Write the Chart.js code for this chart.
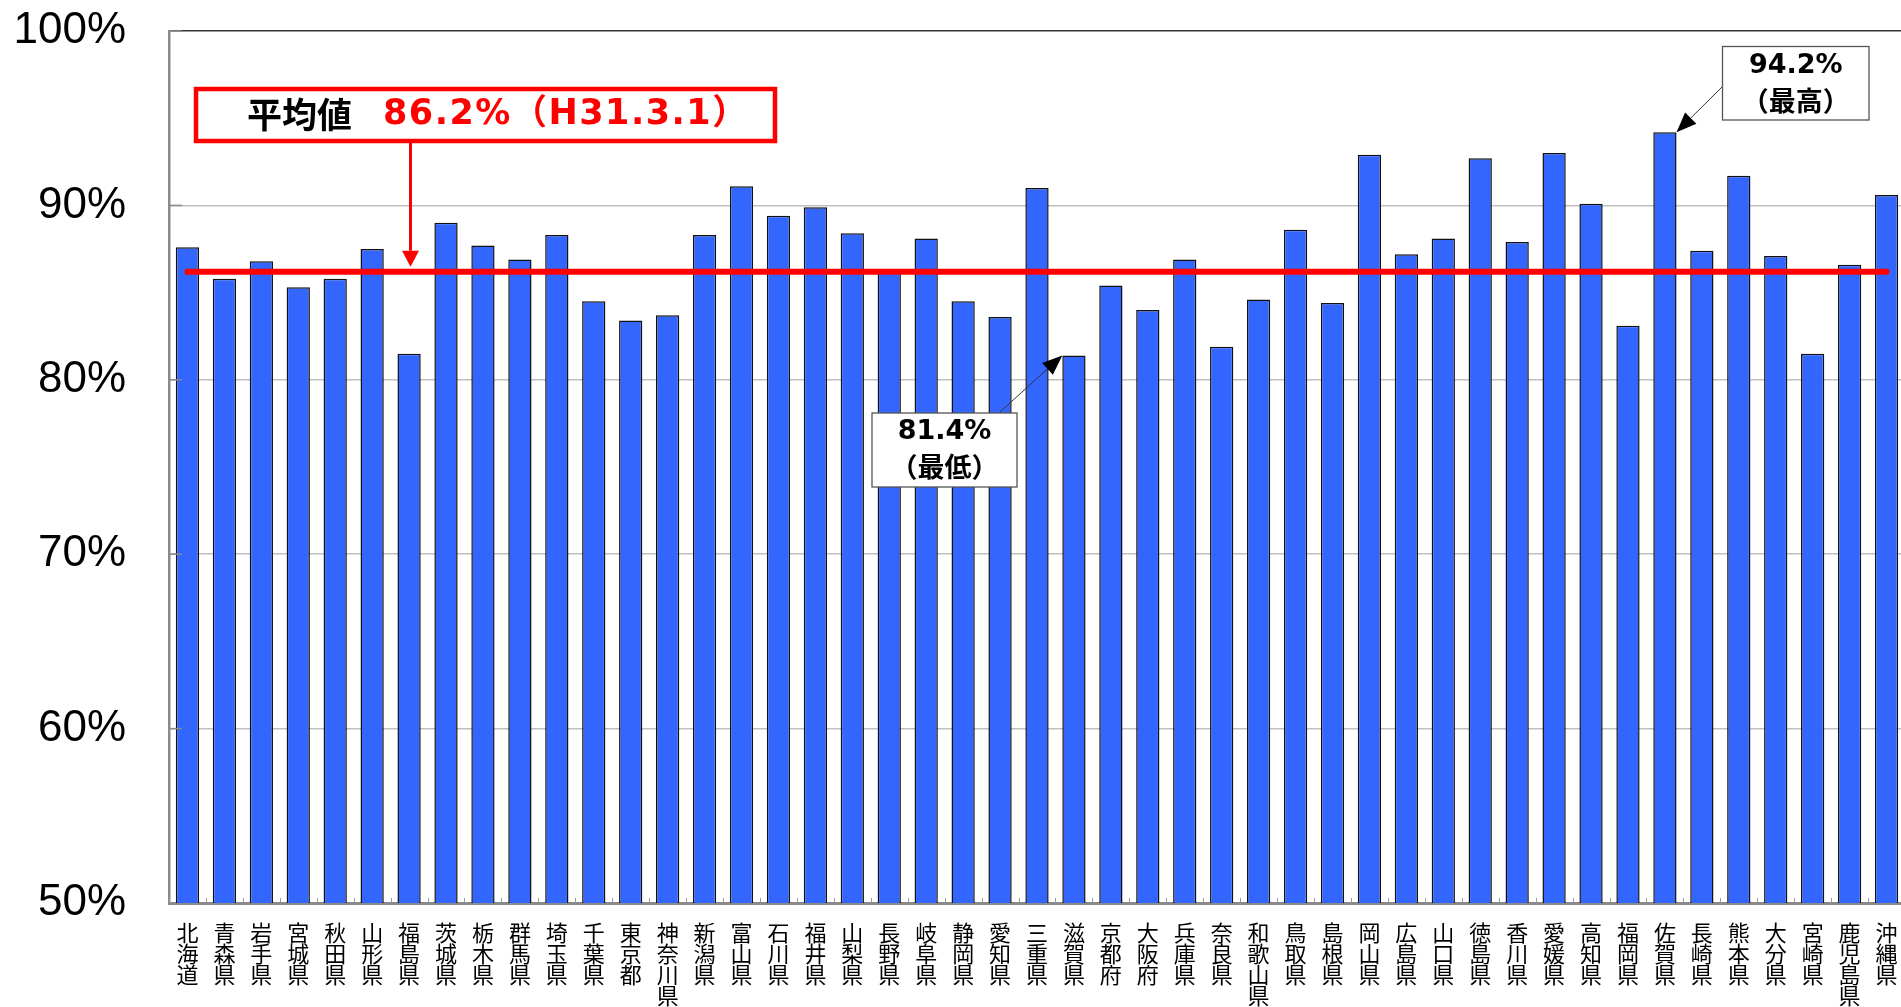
<!DOCTYPE html>
<html lang="ja">
<head>
<meta charset="UTF-8">
<title>都道府県別</title>
<script src="https://cdn.jsdelivr.net/npm/chart.js@4.4.1/dist/chart.umd.min.js"></script>
<style>
  html, body { margin: 0; padding: 0; background: #fff; overflow: hidden; }
  #rateChart { display: block; }
</style>
</head>
<body>
<canvas id="rateChart" width="1905" height="1007"></canvas>
<script>
// ====================================================== 데이터 ========================================================
// 도도부현 이름 (x축)
const prefNames = [
  '北海道', '青森県', '岩手県', '宮城県', '秋田県', '山形県', '福島県', '茨城県', '栃木県', '群馬県',
  '埼玉県', '千葉県', '東京都', '神奈川県', '新潟県', '富山県', '石川県', '福井県', '山梨県', '長野県',
  '岐阜県', '静岡県', '愛知県', '三重県', '滋賀県', '京都府', '大阪府', '兵庫県', '奈良県', '和歌山県',
  '鳥取県', '島根県', '岡山県', '広島県', '山口県', '徳島県', '香川県', '愛媛県', '高知県', '福岡県',
  '佐賀県', '長崎県', '熊本県', '大分県', '宮崎県', '鹿児島県', '沖縄県'
];

// 각 현의 값 (%)
const rateValues = [
  87.6, 85.8, 86.8, 85.3, 85.8, 87.5, 81.5, 89.0, 87.7, 86.9,
  88.3, 84.5, 83.4, 83.7, 88.3, 91.1, 89.4, 89.9, 88.4, 86.2,
  88.1, 84.5, 83.6, 91.0, 81.4, 85.4, 84.0, 86.9, 81.9, 84.6,
  88.6, 84.4, 92.9, 87.2, 88.1, 92.7, 87.9, 93.0, 90.1, 83.1,
  94.2, 87.4, 91.7, 87.1, 81.5, 86.6, 90.6
];

// y축 눈금
const yTickValues = [50, 60, 70, 80, 90, 100];

// 평균값
const averageValue = 86.2;
const averageTitle = '平均値';
const averageText = '86.2%（H31.3.1）';

// 최고 / 최저
const maxIndex = rateValues.indexOf(Math.max(...rateValues));
const minIndex = rateValues.indexOf(Math.min(...rateValues));
const maxNote = '（最高）';
const minNote = '（最低）';

// ====================================================== 그리기 도구 ========================================================
function drawArrow(ctx, x1, y1, x2, y2, headLen, headHalf, lineColor, headColor, lineWidth) {
  let ang = Math.atan2(y2 - y1, x2 - x1);
  let bx = x2 - Math.cos(ang) * headLen;
  let by = y2 - Math.sin(ang) * headLen;
  ctx.strokeStyle = lineColor;
  ctx.lineWidth = lineWidth;
  ctx.lineCap = 'butt';
  ctx.beginPath();
  ctx.moveTo(x1, y1);
  ctx.lineTo(bx, by);
  ctx.stroke();
  ctx.fillStyle = headColor;
  ctx.beginPath();
  ctx.moveTo(x2, y2);
  ctx.lineTo(bx + Math.sin(ang) * headHalf, by - Math.cos(ang) * headHalf);
  ctx.lineTo(bx - Math.sin(ang) * headHalf, by + Math.cos(ang) * headHalf);
  ctx.closePath();
  ctx.fill();
}

function drawNoteBox(ctx, left, top, w, h, line1, line2) {
  ctx.fillStyle = '#ffffff';
  ctx.fillRect(left, top, w, h);
  ctx.strokeStyle = '#555555';
  ctx.lineWidth = 1.3;
  ctx.strokeRect(left, top, w, h);
  ctx.fillStyle = '#000000';
  ctx.textAlign = 'center';
  ctx.textBaseline = 'middle';
  ctx.font = 'bold 27px "DejaVu Sans", "Noto Sans CJK JP"';
  ctx.fillText(line1, left + w / 2, top + 19);
  ctx.font = 'bold 27px "Noto Sans CJK JP"';
  ctx.fillText(line2, left + w / 2, top + 54);
}

// 평균선, 눈금, 주석
const overlayPlugin = {
  id: 'overlay',
  afterDraw(chart) {
    const ctx = chart.ctx;
    const xScale = chart.scales.x;
    const yScale = chart.scales.y;
    const area = chart.chartArea;
    const bars = chart.getDatasetMeta(0).data;

    ctx.save();

    // x축 작은 눈금 (막대 사이)
    ctx.strokeStyle = '#9a9a9a';
    ctx.lineWidth = 1;
    for (let i = 0; i <= prefNames.length; i++) {
      let px = Math.round(xScale.getPixelForValue(i - 0.5)) + 0.5;
      ctx.beginPath();
      ctx.moveTo(px, area.bottom);
      ctx.lineTo(px, area.bottom - 5);
      ctx.stroke();
    }

    // y축 안쪽 눈금
    ctx.strokeStyle = '#8a8a8a';
    ctx.lineWidth = 1.5;
    for (let i = 1; i < yTickValues.length; i++) {
      let py = yScale.getPixelForValue(yTickValues[i]);
      ctx.beginPath();
      ctx.moveTo(area.left, py);
      ctx.lineTo(area.left + 13, py);
      ctx.stroke();
    }

    // 평균선
    let avgY = yScale.getPixelForValue(averageValue);
    ctx.strokeStyle = '#ff0000';
    ctx.lineWidth = 6;
    ctx.lineCap = 'round';
    ctx.beginPath();
    ctx.moveTo(xScale.getPixelForValue(0), avgY);
    ctx.lineTo(xScale.getPixelForValue(prefNames.length - 1), avgY);
    ctx.stroke();

    // 평균값 박스
    ctx.fillStyle = '#ffffff';
    ctx.fillRect(196, 89, 579, 52);
    ctx.strokeStyle = '#ff0000';
    ctx.lineWidth = 4.5;
    ctx.strokeRect(196, 89, 579, 52);
    ctx.textAlign = 'left';
    ctx.textBaseline = 'middle';
    ctx.fillStyle = '#000000';
    ctx.font = 'bold 35px "Noto Sans CJK JP"';
    ctx.fillText(averageTitle, 247, 115);
    ctx.fillStyle = '#ff0000';
    ctx.font = 'bold 35px "DejaVu Sans", "Noto Sans CJK JP"';
    ctx.letterSpacing = '1.5px';
    ctx.fillText(averageText, 383, 115);
    ctx.letterSpacing = '0px';

    // 평균값 화살표
    drawArrow(ctx, 410.5, 143, 410.5, avgY - 5, 16, 8.5, '#ff0000', '#ff0000', 3);

    // 최고 주석
    let maxBar = bars[maxIndex];
    drawNoteBox(ctx, 1722.5, 46.5, 146.5, 73.5, rateValues[maxIndex].toFixed(1) + '%', maxNote);
    drawArrow(ctx, 1722, 87, maxBar.x + maxBar.width / 2, maxBar.y, 20, 8, '#333333', '#000000', 1);

    // 최저 주석
    let minBar = bars[minIndex];
    drawNoteBox(ctx, 872, 413, 145, 74, rateValues[minIndex].toFixed(1) + '%', minNote);
    drawArrow(ctx, 1000, 412, minBar.x - minBar.width / 2, minBar.y, 20, 8, '#333333', '#000000', 1);

    ctx.restore();
  }
};

// ====================================================== 차트 ========================================================
const rateCt = document.getElementById('rateChart');

let rateChart = new Chart(rateCt, {
  type: 'bar',
  data: {
    labels: prefNames.map(name => name.split('')),
    datasets: [{
      data: rateValues,
      backgroundColor: '#3366ff',
      borderColor: '#111111',
      borderWidth: 1.5,
      barPercentage: 0.63,
      categoryPercentage: 1.0
    }]
  },
  options: {
    responsive: false,
    animation: false,
    devicePixelRatio: 1,
    layout: { padding: { left: 0, top: 31, right: 0, bottom: 0 } },
    plugins: {
      legend: { display: false },
      title: { display: false },
      tooltip: { enabled: false }
    },
    scales: {
      x: {
        offset: true,
        grid: { drawOnChartArea: false, drawTicks: false },
        border: { color: '#8a8a8a', width: 3 },
        ticks: {
          autoSkip: false,
          maxRotation: 0,
          minRotation: 0,
          padding: 19,
          color: '#000000',
          font: { family: '"Noto Sans CJK JP"', size: 22, lineHeight: 0.95 }
        },
        afterFit(scale) {
          scale.height = 104;
          scale.paddingLeft = 0;
          scale.paddingRight = 0;
        }
      },
      y: {
        min: 50,
        max: 100,
        afterBuildTicks(scale) { scale.ticks = yTickValues.map(v => ({ value: v })); },
        grid: {
          drawTicks: false,
          color: (c) => c.tick.value === 100 ? '#333333' : (c.tick.value === 50 ? 'rgba(0,0,0,0)' : '#c0c0c0'),
          lineWidth: 1.5
        },
        border: { color: '#8a8a8a', width: 2.5 },
        ticks: {
          padding: 43,
          color: '#000000',
          font: { family: '"Liberation Sans", Arial', size: 44 },
          callback: (v) => v + '%'
        },
        afterFit(scale) {
          scale.width = 169;
          scale.paddingTop = 0;
          scale.paddingBottom = 0;
        }
      }
    }
  },
  plugins: [overlayPlugin]
});
</script>
</body>
</html>
